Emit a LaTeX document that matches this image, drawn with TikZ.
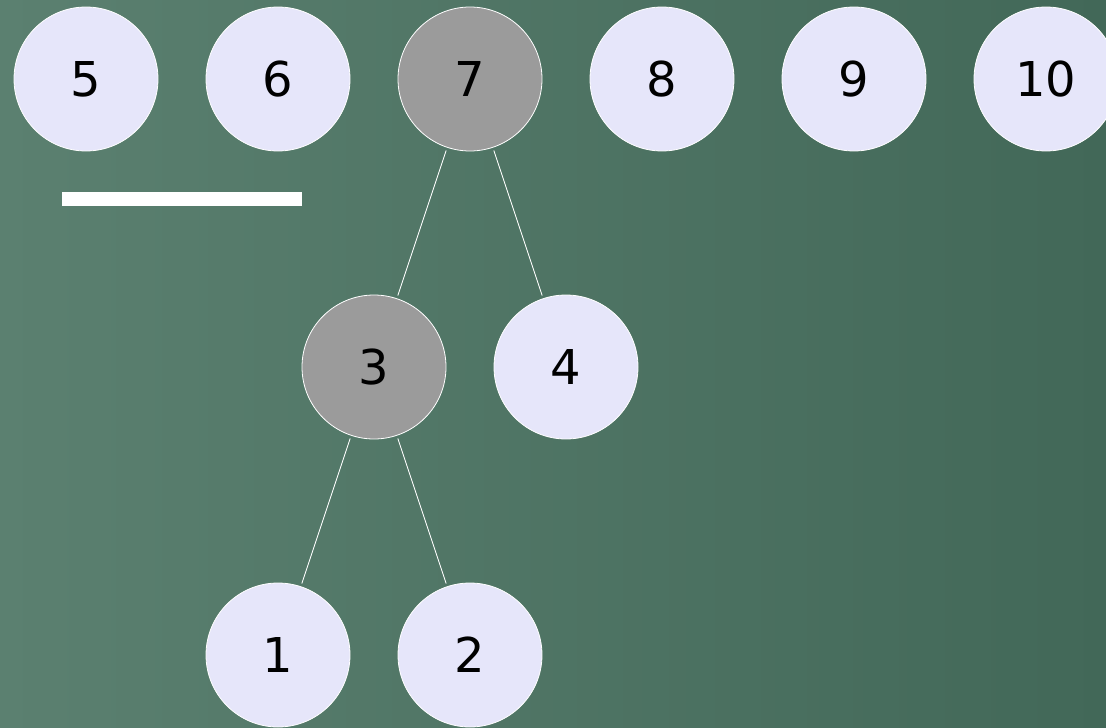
\documentclass[tikz,border=0pt]{standalone}
\usepackage{fontspec}
\setmainfont{DejaVu Sans}
\definecolor{bgl}{HTML}{5B8070}
\definecolor{bgr}{HTML}{426858}
\definecolor{nodefill}{HTML}{E6E6FA}
\definecolor{visited}{HTML}{9B9B9B}
\begin{document}
\begin{tikzpicture}[x=1pt,y=-1pt,
  elem/.style={circle,draw=white,line width=0.8pt,fill=nodefill,minimum size=144pt,inner sep=0pt,font=\fontsize{48}{58}\selectfont},
  done/.style={elem,fill=visited},
  link/.style={draw=white,line width=0.9pt,shorten >=3pt,shorten <=3pt}]
\shade[left color=bgl,right color=bgr] (0,0) rectangle (1106,728);
\useasboundingbox (0,0) rectangle (1106,728);
\node[elem] (n5) at (86,79) {5};
\node[elem] (n6) at (278,79) {6};
\node[done] (n7) at (470,79) {7};
\node[elem] (n8) at (662,79) {8};
\node[elem] (n9) at (854,79) {9};
\node[elem] (n10) at (1046,79) {10};
\node[done] (n3) at (374,367) {3};
\node[elem] (n4) at (566,367) {4};
\node[elem] (n1) at (278,655) {1};
\node[elem] (n2) at (470,655) {2};
\fill[white] (62,192) rectangle (302,206);
\path[link] (n7) -- (n3);
\path[link] (n7) -- (n4);
\path[link] (n3) -- (n1);
\path[link] (n3) -- (n2);
\end{tikzpicture}
\end{document}
